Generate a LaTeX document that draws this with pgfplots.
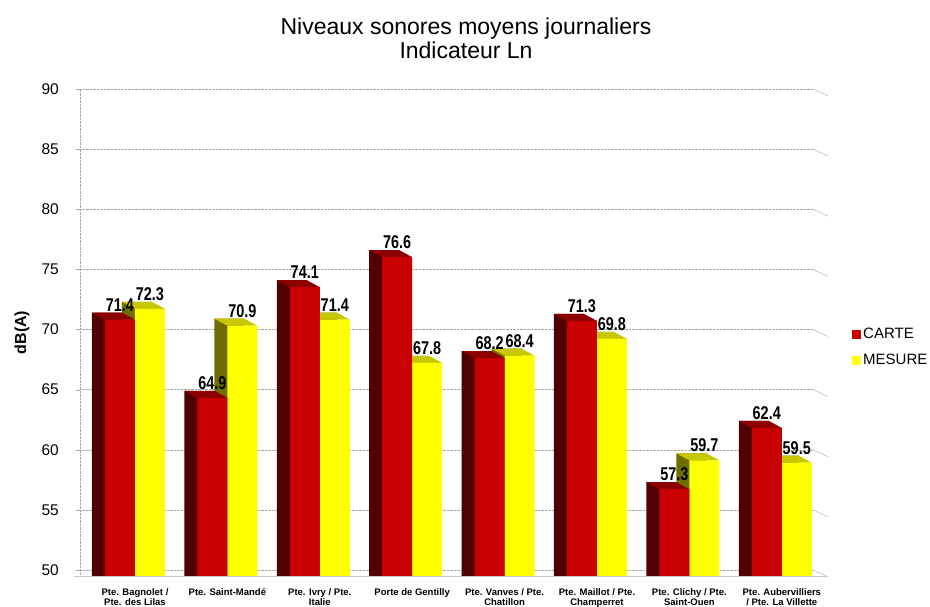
\documentclass[border=0pt]{standalone}
\usepackage{fontspec}
\setmainfont{Liberation Sans}
\newfontfamily\narrowfont[FakeStretch=0.78]{Liberation Sans}
\usepackage{pgfplots}
\pgfplotsset{compat=1.18}
\usepackage{pgfplotstable}

\definecolor{redfront}{RGB}{200,0,0}
\definecolor{redside}{RGB}{80,0,0}
\definecolor{redtop}{RGB}{140,0,0}
\definecolor{yelfront}{RGB}{255,255,0}
\definecolor{yelside}{RGB}{110,110,0}
\definecolor{yeltop}{RGB}{200,200,0}
\definecolor{gridgray}{RGB}{165,165,165}

\pgfdeclareplotmark{redtopface}{%
  \pgfpathmoveto{\pgfpoint{-43pt}{0pt}}%
  \pgfpathlineto{\pgfpoint{-13pt}{0pt}}%
  \pgfpathlineto{\pgfpoint{0pt}{-7pt}}%
  \pgfpathlineto{\pgfpoint{-30pt}{-7pt}}%
  \pgfpathclose
  \pgfusepathqfill}
\pgfdeclareplotmark{yeltopface}{%
  \pgfpathmoveto{\pgfpoint{-13pt}{0pt}}%
  \pgfpathlineto{\pgfpoint{17pt}{0pt}}%
  \pgfpathlineto{\pgfpoint{30pt}{-7pt}}%
  \pgfpathlineto{\pgfpoint{0pt}{-7pt}}%
  \pgfpathclose
  \pgfusepathqfill}

\pgfplotstableread{
x c m
0 71.4 72.3
1 64.9 70.9
2 74.1 71.4
3 76.6 67.8
4 68.2 68.4
5 71.3 69.8
6 57.3 59.7
7 62.4 59.5
}\data

\begin{document}
\begin{tikzpicture}[x=1pt,y=1pt]
\begin{axis}[
  at={(80pt,31pt)}, anchor=south west,
  scale only axis, width=733pt, height=487pt,
  xmin=-0.595, xmax=7.338, ymin=49.5, ymax=90,
  clip mode=individual,
  /pgf/number format/assume math mode=true,
  axis x line*=bottom, axis y line*=left,
  x axis line style={draw=none},
  y axis line style={gridgray, densely dotted},
  ytick={50,55,...,90},
  ymajorgrids, grid style={gridgray, densely dotted},
  tick align=outside, major tick length=4pt,
  ytick style={gridgray},
  xtick={0,...,7},
  xtick style={draw=none},
  xticklabels={{Pte. Bagnolet /\\Pte. des Lilas},{Pte. Saint-Mandé},{Pte. Ivry / Pte.\\Italie},{Porte de Gentilly},{Pte. Vanves / Pte.\\Chatillon},{Pte. Maillot / Pte.\\Champerret},{Pte. Clichy / Pte.\\Saint-Ouen},{Pte. Aubervilliers\\/ Pte. La Villette}},
  xticklabel style={align=center, font=\bfseries\fontsize{9.5}{10.5}\selectfont, inner sep=0pt, yshift=-8pt},
  yticklabel style={font=\fontsize{15.5}{18}\selectfont, inner sep=0pt, anchor=east, xshift=-17pt},
  ylabel={dB(A)},
  every axis y label/.style={at={(axis description cs:0,0.5)}, xshift=-58pt, rotate=90, anchor=center, font=\bfseries\fontsize{16}{18}\selectfont},
  legend style={at={(axis description cs:1,0.5)}, anchor=west, xshift=39pt, yshift=-15pt, draw=none, fill=none, font=\fontsize{15}{18}\selectfont, row sep=10pt, inner sep=0pt, nodes={inner sep=2pt}},
  legend cell align=left,
  reverse legend,
]
% MESURE (yellow) - drawn first (behind)
\addplot[ybar, bar width=30pt, bar shift=2pt, fill=yelside, draw=none, forget plot] table[x=x,y=m]{\data};
\addplot[only marks, mark=yeltopface, mark options={fill=yeltop, draw=none}, forget plot,
  nodes near coords={\pgfmathprintnumber[fixed,precision=1]{\pgfplotspointmeta}},
  every node near coord/.append style={anchor=south, xshift=15pt, inner sep=1pt, text=black, font=\narrowfont\bfseries\fontsize{18.5}{18.5}\selectfont}]
  table[x=x,y=m]{\data};
\addplot[ybar, bar width=30pt, bar shift=15pt, fill=yelfront, draw=none,
  legend image code/.code={\fill[yelfront] (0pt,-4.5pt) rectangle (9pt,4.5pt);}]
  table[x=x,y expr=\thisrow{m}-0.58]{\data};
\addlegendentry{MESURE}
% CARTE (red)
\addplot[ybar, bar width=30pt, bar shift=-28pt, fill=redside, draw=none, forget plot] table[x=x,y=c]{\data};
\addplot[only marks, mark=redtopface, mark options={fill=redtop, draw=none}, forget plot,
  nodes near coords={\pgfmathprintnumber[fixed,precision=1]{\pgfplotspointmeta}},
  every node near coord/.append style={anchor=south, xshift=-15pt, inner sep=1pt, text=black, font=\narrowfont\bfseries\fontsize{18.5}{18.5}\selectfont}]
  table[x=x,y=c]{\data};
\addplot[ybar, bar width=30pt, bar shift=-15pt, fill=redfront, draw=none,
  legend image code/.code={\fill[redfront] (0pt,-4.5pt) rectangle (9pt,4.5pt);}]
  table[x=x,y expr=\thisrow{c}-0.58]{\data};
\addlegendentry{CARTE}
% 3D wall edges
\pgfplotsinvokeforeach{50,55,...,90}{\draw[gridgray] (axis cs:7.338,#1) -- ++(15pt,-7pt);}
\draw[gridgray!60] (axis cs:-0.595,49.5) ++(-6pt,0pt) -- ([xshift=15pt]axis cs:7.338,49.5);
\end{axis}
\node[anchor=base, font=\fontsize{23}{27}\selectfont] at (466,572.7) {Niveaux sonores moyens journaliers};
\node[anchor=base, font=\fontsize{23}{27}\selectfont] at (466,548.7) {Indicateur Ln};
\pgfresetboundingbox
\useasboundingbox (0,0) rectangle (930,607);
\end{tikzpicture}
\end{document}
